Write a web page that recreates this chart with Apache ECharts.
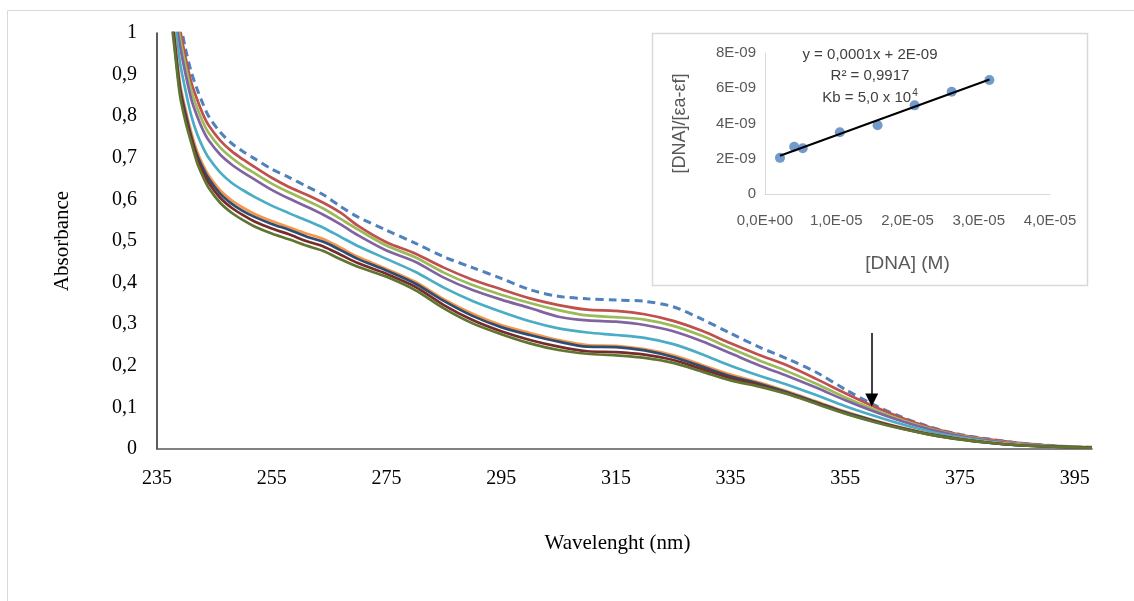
<!DOCTYPE html>
<html>
<head>
<meta charset="utf-8">
<script src="https://cdn.jsdelivr.net/npm/echarts@6/dist/echarts.min.js"></script>
<style>html,body{margin:0;padding:0;background:#fff}#c{width:1134px;height:601px}</style>
</head>
<body>
<div id="c"></div>
<script>
// Wavelengths (nm)
const wavelengths = [237,238,239,240,241,242,243,244,246,248,250,252,255,258,261,264,267,270,
  275,280,285,290,295,300,305,310,315,320,325,330,335,340,345,350,355,360,365,370,375,380,385,390,395,398];

const sDashed = [1.24,1.12,1.03,0.96,0.905,0.865,0.83,0.80,0.762,0.735,0.715,0.698,0.673,0.653,0.632,0.611,0.583,0.558,
  0.526,0.495,0.462,0.436,0.410,0.383,0.367,0.361,0.358,0.355,0.342,0.312,0.278,0.245,0.216,0.184,0.143,0.106,0.076,0.052,0.035,0.024,0.015,0.009,0.005,0.004];
const sRed = [1.22,1.10,1.01,0.94,0.88,0.84,0.805,0.778,0.742,0.716,0.696,0.678,0.652,0.630,0.612,0.592,0.568,0.537,
  0.497,0.470,0.436,0.407,0.384,0.362,0.346,0.335,0.332,0.324,0.308,0.284,0.254,0.226,0.200,0.168,0.134,0.102,0.074,0.051,0.034,0.023,0.015,0.009,0.005,0.004];
const sGreen = [1.20,1.08,0.99,0.92,0.86,0.82,0.786,0.76,0.725,0.70,0.68,0.663,0.638,0.617,0.598,0.578,0.553,0.528,
  0.489,0.461,0.424,0.394,0.371,0.351,0.334,0.321,0.317,0.311,0.296,0.272,0.242,0.213,0.186,0.156,0.124,0.095,0.069,0.048,0.032,0.021,0.013,0.008,0.005,0.004];
const sPurple = [1.18,1.06,0.97,0.90,0.84,0.80,0.767,0.742,0.708,0.684,0.665,0.648,0.623,0.602,0.583,0.563,0.540,0.514,
  0.477,0.450,0.412,0.382,0.359,0.339,0.318,0.309,0.306,0.298,0.283,0.259,0.230,0.201,0.175,0.147,0.117,0.090,0.066,0.046,0.031,0.020,0.012,0.008,0.005,0.003];
const sCyan = [1.15,1.04,0.93,0.86,0.80,0.757,0.725,0.70,0.665,0.64,0.622,0.606,0.585,0.567,0.55,0.532,0.51,0.488,
  0.457,0.426,0.388,0.356,0.330,0.307,0.290,0.280,0.274,0.267,0.252,0.228,0.200,0.176,0.154,0.129,0.103,0.080,0.059,0.041,0.028,0.018,0.011,0.007,0.004,0.003];
const sOrange = [1.12,1.00,0.88,0.815,0.76,0.715,0.683,0.658,0.622,0.598,0.58,0.565,0.548,0.533,0.518,0.505,0.484,0.462,
  0.433,0.402,0.360,0.325,0.298,0.279,0.262,0.250,0.248,0.240,0.225,0.202,0.179,0.160,0.138,0.114,0.090,0.069,0.051,0.036,0.025,0.016,0.010,0.006,0.004,0.003];
const sDarkBlue = [1.11,0.99,0.87,0.805,0.75,0.706,0.675,0.65,0.614,0.59,0.572,0.558,0.541,0.527,0.511,0.498,0.478,0.457,
  0.429,0.398,0.356,0.320,0.293,0.274,0.258,0.246,0.245,0.237,0.221,0.198,0.175,0.157,0.136,0.112,0.088,0.068,0.050,0.035,0.024,0.015,0.009,0.006,0.004,0.003];
const sDarkRed = [1.10,0.98,0.86,0.795,0.745,0.698,0.666,0.64,0.604,0.58,0.562,0.547,0.530,0.516,0.500,0.487,0.467,0.447,
  0.421,0.390,0.346,0.310,0.283,0.262,0.246,0.235,0.233,0.227,0.214,0.192,0.170,0.153,0.133,0.110,0.086,0.066,0.049,0.034,0.023,0.015,0.009,0.006,0.004,0.003];
const sDarkGreen = [1.09,0.97,0.85,0.785,0.735,0.688,0.655,0.628,0.592,0.568,0.55,0.535,0.518,0.504,0.489,0.476,0.456,0.438,
  0.414,0.382,0.338,0.302,0.276,0.254,0.238,0.229,0.225,0.219,0.207,0.186,0.165,0.150,0.132,0.108,0.085,0.065,0.048,0.034,0.023,0.015,0.009,0.006,0.004,0.003];

const xTickLabels = [235,255,275,295,315,335,355,375,395];
const arrowX = 359.6, arrowFrom = 0.279, arrowTo = 0.118;

// Inset data
const dnaConc = [2.1e-6, 4.1e-6, 5.3e-6, 1.05e-5, 1.58e-5, 2.1e-5, 2.62e-5, 3.15e-5];
const dnaRatio = [2.05e-9, 2.68e-9, 2.60e-9, 3.50e-9, 3.90e-9, 5.03e-9, 5.80e-9, 6.47e-9];

const curves = [
  {d: sDashed, c: '#4F81BD', dash: true},
  {d: sRed, c: '#C0504D'},
  {d: sGreen, c: '#9BBB59'},
  {d: sPurple, c: '#8064A2'},
  {d: sCyan, c: '#4BACC6'},
  {d: sOrange, c: '#F79646'},
  {d: sDarkBlue, c: '#2C4D75'},
  {d: sDarkRed, c: '#772C2A'},
  {d: sDarkGreen, c: '#5F7530'}
];

// linear regression for trendline
const n = dnaConc.length;
const mx = dnaConc.reduce((a,b)=>a+b,0)/n, my = dnaRatio.reduce((a,b)=>a+b,0)/n;
let sxy = 0, sxx = 0;
for (let i=0;i<n;i++){ sxy += (dnaConc[i]-mx)*(dnaRatio[i]-my); sxx += (dnaConc[i]-mx)**2; }
const slope = sxy/sxx, icpt = my - slope*mx;
const xMin = Math.min(...dnaConc), xMax = Math.max(...dnaConc);
const trend = [[xMin, icpt+slope*xMin],[xMax, icpt+slope*xMax]];

const serif = 'Liberation Serif';
const sans = 'Liberation Sans';

const series = curves.map((cv, idx) => {
  const s = {
    type: 'line', xAxisIndex: 0, yAxisIndex: 0,
    data: wavelengths.map((w,i)=>[w, cv.d[i]]),
    showSymbol: false, symbol: 'none', smooth: 0.3, clip: true,
    lineStyle: {color: cv.c, width: cv.dash ? 3 : 2.7, type: cv.dash ? [8,5] : 'solid'},
    z: 2 + idx
  };
  if (idx === 0) {
    s.markLine = {
      silent: true, symbol: ['none','triangle'], symbolSize: 13,
      label: {show: false},
      lineStyle: {color: '#000', width: 1.5, type: 'solid'},
      data: [[{coord: [arrowX, arrowFrom]}, {coord: [arrowX, arrowTo]}]]
    };
  }
  return s;
});

series.push({
  type: 'line', xAxisIndex: 1, yAxisIndex: 1, data: trend,
  symbol: 'none', lineStyle: {color: '#000', width: 2}, z: 20
});
series.push({
  type: 'scatter', xAxisIndex: 1, yAxisIndex: 1,
  data: dnaConc.map((x,i)=>[x, dnaRatio[i]]),
  symbolSize: 10, itemStyle: {color: '#4F81BD'}, z: 19
});

function sciX(v){
  if (v === 0) return '0,0E+00';
  const e = Math.floor(Math.log10(v) + 1e-9);
  const m = v/Math.pow(10,e);
  return m.toFixed(1).replace('.',',') + 'E-' + String(-e).padStart(2,'0');
}
function sciY(v){
  if (v === 0) return '0';
  const e = Math.floor(Math.log10(v) + 1e-9);
  const m = v/Math.pow(10,e);
  return Math.round(m) + 'E-' + String(-e).padStart(2,'0');
}

const chart = echarts.init(document.getElementById('c'), null, {renderer: 'canvas'});
chart.setOption({
  animation: false,
  backgroundColor: '#fff',
  grid: [
    {left: 157, top: 33, right: 42, bottom: 152},
    {left: 765, top: 53, right: 84, bottom: 407}
  ],
  xAxis: [
    {
      type: 'value', gridIndex: 0, min: 235, max: 398,
      axisLine: {lineStyle: {color: '#595959', width: 1.5}},
      axisTick: {show: false}, splitLine: {show: false},
      axisLabel: {customValues: xTickLabels, color: '#000', fontFamily: serif, fontSize: 20, margin: 20},
      name: 'Wavelenght (nm)', nameLocation: 'middle', nameGap: 84,
      nameTextStyle: {color: '#000', fontFamily: serif, fontSize: 21, padding: [0,0,0,-14]}
    },
    {
      type: 'value', gridIndex: 1, min: 0, max: 4e-5, interval: 1e-5,
      axisLine: {lineStyle: {color: '#d9d9d9', width: 1}},
      axisTick: {show: false}, splitLine: {show: false},
      axisLabel: {formatter: sciX, color: '#595959', fontFamily: sans, fontSize: 15, margin: 19},
      name: '[DNA] (M)', nameLocation: 'middle', nameGap: 60,
      nameTextStyle: {color: '#595959', fontFamily: sans, fontSize: 19}
    }
  ],
  yAxis: [
    {
      type: 'value', gridIndex: 0, min: 0, max: 1, interval: 0.1,
      axisLine: {show: true, lineStyle: {color: '#262626', width: 1.5}},
      axisTick: {show: false}, splitLine: {show: false},
      axisLabel: {formatter: v => (v===0?'0':v===1?'1':v.toFixed(1).replace('.',',')), color: '#000', fontFamily: serif, fontSize: 20, margin: 20},
      name: 'Absorbance', nameLocation: 'middle', nameGap: 84, nameRotate: 90,
      nameTextStyle: {color: '#000', fontFamily: serif, fontSize: 21}
    },
    {
      type: 'value', gridIndex: 1, min: 0, max: 8e-9, interval: 2e-9,
      axisLine: {show: true, lineStyle: {color: '#d9d9d9', width: 1}},
      axisTick: {show: false}, splitLine: {show: false},
      axisLabel: {formatter: sciY, color: '#595959', fontFamily: sans, fontSize: 15, margin: 9},
      name: '[DNA]/[εa-εf]', nameLocation: 'middle', nameGap: 76, nameRotate: 90,
      nameTextStyle: {color: '#595959', fontFamily: sans, fontSize: 18}
    }
  ],
  graphic: [
    {type: 'rect', shape: {x: 7.5, y: 10.5, width: 1140, height: 600}, style: {fill: 'none', stroke: '#d9d9d9', lineWidth: 1}, z: -1, silent: true},
    {type: 'rect', shape: {x: 652.5, y: 33.5, width: 435, height: 252}, style: {fill: 'none', stroke: '#d9d9d9', lineWidth: 1.5}, z: 0, silent: true},
    {type: 'text', x: 870, y: 55, style: {text: 'y = 0,0001x + 2E-09', fill: '#404040', font: '15px "Liberation Sans"', align: 'center', verticalAlign: 'middle'}, z: 30},
    {type: 'text', x: 870, y: 76, style: {text: 'R² = 0,9917', fill: '#404040', font: '15px "Liberation Sans"', align: 'center', verticalAlign: 'middle'}, z: 30},
    {type: 'text', x: 870, y: 98, style: {
      text: '{a|Kb = 5,0 x 10}{s|4}', align: 'center', verticalAlign: 'middle',
      rich: {
        a: {fill: '#404040', fontFamily: 'Liberation Sans', fontSize: 15},
        s: {fill: '#404040', fontFamily: 'Liberation Sans', fontSize: 10, padding: [0,0,9,1]}
      }
    }, z: 30}
  ],
  series: series
});
</script>
</body>
</html>
